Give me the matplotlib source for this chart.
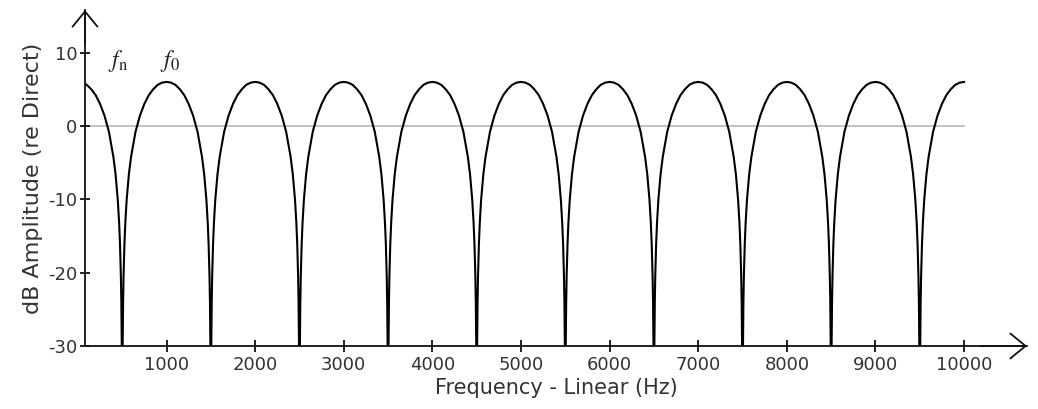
import numpy as np
import matplotlib
matplotlib.use("Agg")
import matplotlib.pyplot as plt

# ---- data ----
peak_freqs = [0, 1000, 2000, 3000, 4000, 5000, 6000, 7000, 8000, 9000, 10000]   # Hz, lobe maxima
# half-lobe profile: offset from a peak (Hz) and level (dB), read off one lobe
lobe_offsets = [0, 50, 100, 150, 200, 250, 300, 350, 400, 425, 450, 465, 475, 485, 490, 495, 500]
lobe_db      = [6.0, 5.9, 5.6, 5.0, 4.2, 3.0, 1.4, -0.8, -4.2, -6.6, -10.1, -13.2, -16.1, -20.5, -24.0, -30.0, -30.0]
x_ticks = [1000, 2000, 3000, 4000, 5000, 6000, 7000, 8000, 9000, 10000]
y_ticks = [10, 0, -10, -20, -30]
f_end = 10000
x_min, x_max = 80, 10710
y_min, y_max = -30, 15.8

# build the curve from the lobe profile
off = np.array(lobe_offsets, float)
db = np.array(lobe_db, float)
full_off = np.concatenate([-off[::-1], off[1:]])
full_db = np.concatenate([db[::-1], db[1:]])
xs, ys = [], []
for p in peak_freqs:
    x = p + full_off
    m = x <= f_end
    xs.append(x[m]); ys.append(full_db[m])
xs = np.concatenate(xs); ys = np.concatenate(ys)

plt.rcParams["mathtext.fontset"] = "stix"

fig = plt.figure(figsize=(10.38, 4.09), dpi=100)
ax = fig.add_axes([85/1038, 63/409, (1027-85)/1038, (346-10)/409])
ax.set_xlim(x_min, x_max)
ax.set_ylim(y_min, y_max)

ax.plot([x_min, f_end], [0, 0], color="#bdbdbd", lw=1.3, zorder=1)
ax.plot(xs, ys, color="black", lw=1.5, zorder=2)

for s in ["top", "right"]:
    ax.spines[s].set_visible(False)
for s in ["left", "bottom"]:
    ax.spines[s].set_linewidth(1.3)
    ax.spines[s].set_color("#111111")

ax.set_xticks(x_ticks)
ax.set_xticklabels([str(t) for t in x_ticks])
ax.set_yticks(y_ticks)
ax.set_yticklabels([str(t) for t in y_ticks])
ax.tick_params(axis="both", direction="inout", labelsize=13, colors="#111111",
               labelcolor="#333333", width=1.3)
ax.tick_params(axis="y", length=7, pad=2)
ax.tick_params(axis="x", length=8, pad=3)

# arrows
ap = dict(arrowstyle="->,head_length=1.1,head_width=0.9", lw=1.3, color="#111111",
          shrinkA=0, shrinkB=0)
ax.annotate("", xy=(0, 1.0), xytext=(0, 0.9), xycoords="axes fraction", arrowprops=ap)
ax.annotate("", xy=(1.0, 0), xytext=(0.95, 0), xycoords="axes fraction", arrowprops=ap)

ax.set_xlabel("Frequency - Linear (Hz)", fontsize=15, color="#333333", labelpad=3)
ax.set_ylabel("dB Amplitude (re Direct)", fontsize=16, color="#333333", labelpad=4)

ax.text(450, 8.8, r"$f_{\mathrm{n}}$", fontsize=17, ha="center", va="center", color="#222222")
ax.text(1040, 8.8, r"$f_{0}$", fontsize=17, ha="center", va="center", color="#222222")

fig.savefig("out.png", dpi=100)
